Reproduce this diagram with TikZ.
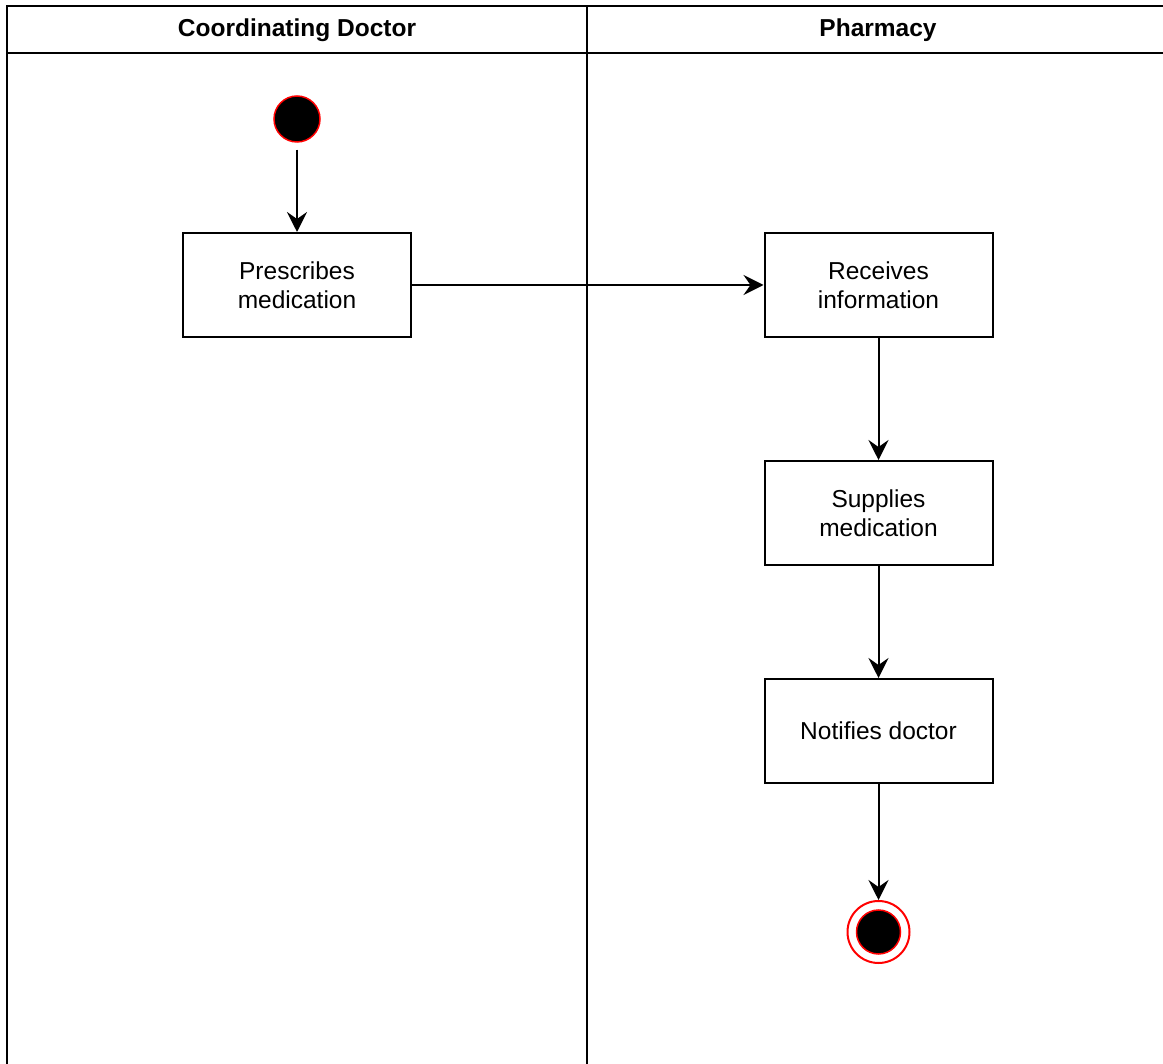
\documentclass[tikz,border=0pt]{standalone}
\usepackage{fontspec}
\setmainfont{Liberation Sans}
\usetikzlibrary{arrows.meta}
\begin{document}
\begin{tikzpicture}[x=1pt,y=-1pt,
  lane/.style={line width=2pt,draw=black},
  action/.style={draw=black,line width=2pt,minimum width=228pt,minimum height=104pt,
    align=center,font=\fontsize{24.5}{29}\selectfont,inner sep=0pt},
  flow/.style={line width=2pt,-{Stealth[length=20pt,width=20pt,inset=7pt]}},
  header/.style={font=\fontsize{24.5}{29}\selectfont\bfseries}]
  \useasboundingbox (0,0) rectangle (1163,1064);
  % swimlane frame
  \draw[lane] (7,1064) -- (7,6) -- (1163,6);
  \draw[lane] (7,53) -- (1163,53);
  \draw[lane] (587,6) -- (587,1064);
  \node[header] (h1) at (297,30) {Coordinating Doctor};
  \node[header] (h2) at (878,30) {Pharmacy};
  % start state
  \node[circle,fill=black,draw=red,line width=1.5pt,minimum size=46pt,inner sep=0pt] (start) at (297,119) {};
  % actions
  \node[action] (presc) at (297,285) {Prescribes\\medication};
  \node[action] (recv) at (878.5,285) {Receives\\information};
  \node[action] (supp) at (878.5,513) {Supplies\\medication};
  \node[action] (notif) at (878.5,731) {Notifies doctor};
  % final state
  \node[circle,draw=red,line width=2pt,fill=white,minimum size=62pt,inner sep=0pt] (end) at (878.5,932) {};
  \node[circle,fill=black,draw=red,line width=1.5pt,minimum size=44pt,inner sep=0pt] (endin) at (878.5,932) {};
  % transitions
  \draw[flow] (start.south) ++(0,7) -- (presc.north);
  \draw[flow] (presc.east) -- (recv.west);
  \draw[flow] (recv.south) -- (supp.north);
  \draw[flow] (supp.south) -- (notif.north);
  \draw[flow] (notif.south) -- (end.north);
\end{tikzpicture}
\end{document}
